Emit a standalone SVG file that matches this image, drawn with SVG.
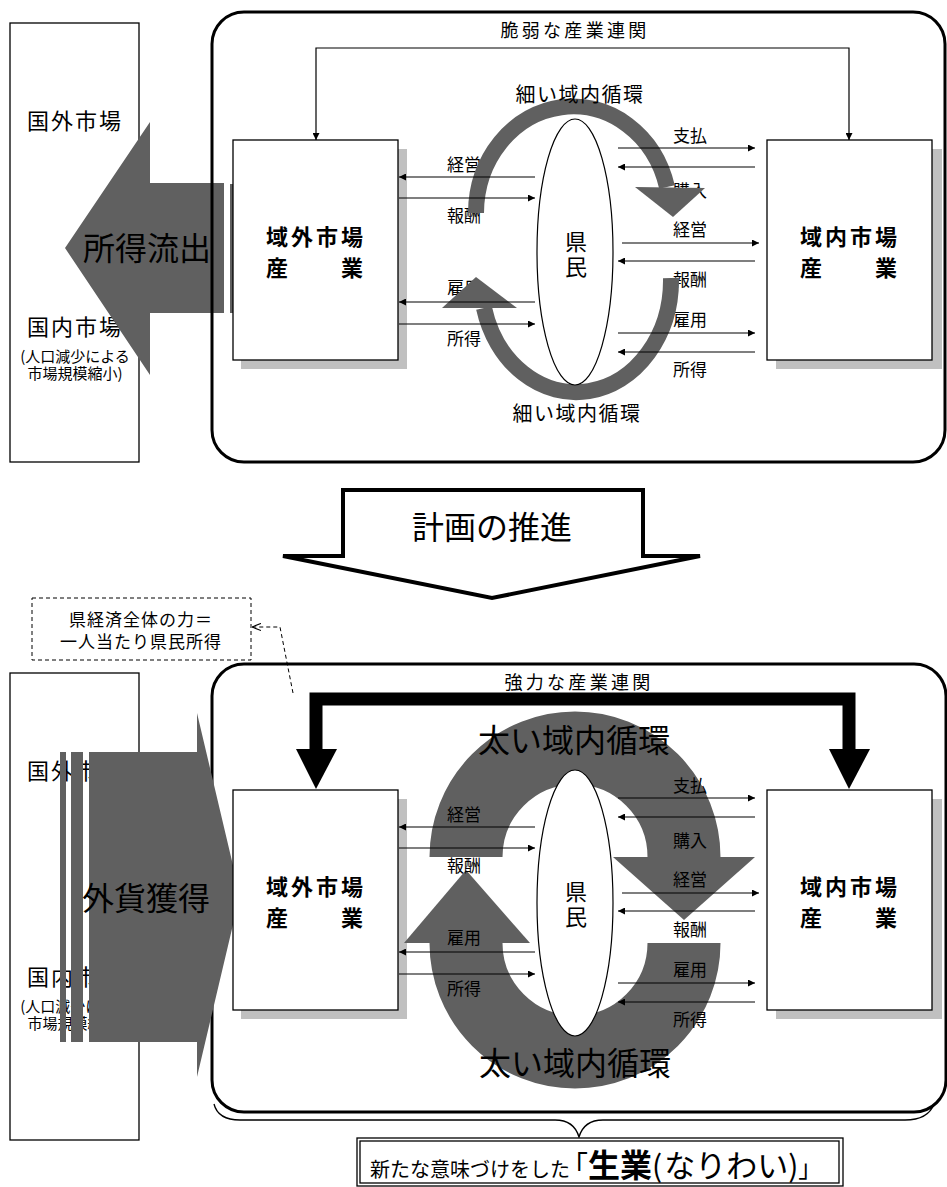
<svg xmlns="http://www.w3.org/2000/svg" width="947" height="1187" viewBox="0 0 947 1187">
<style>
text{font-family:"Noto Sans CJK JP","Noto Sans CJK SC",sans-serif;fill:#000}
.box{fill:#fff;stroke:#000;stroke-width:1.3}
.shadow{fill:#c0c0c0}
.panel{fill:none;stroke:#000;stroke-width:3}
.lbl{font-size:17px;text-anchor:middle}
.nl{font-size:22px;font-weight:bold;letter-spacing:3px}
.mk{font-size:22px;text-anchor:middle;letter-spacing:2px}
.sub{font-size:15px;text-anchor:middle}
.big{font-size:32px}
.ttl{font-size:18px;text-anchor:middle;letter-spacing:3.3px}
.circ{font-size:20px;text-anchor:middle;letter-spacing:1.5px}
.circb{font-size:32px;text-anchor:middle}
.gray{fill:#606060}
.arc{fill:none;stroke:#606060}
.ln{stroke:#000;stroke-width:1.2;fill:none;marker-end:url(#ah)}
.ell{fill:#fff;stroke:#000;stroke-width:1.2}
.ken{font-size:22px;text-anchor:middle}
</style>
<defs>
<marker id="ah" viewBox="0 0 10 10" refX="10" refY="5" markerWidth="9" markerHeight="7" markerUnits="userSpaceOnUse" orient="auto"><path d="M0,0 L10,5 L0,10 z"/></marker>
<marker id="oa" viewBox="0 0 10 10" refX="10" refY="5" markerWidth="9" markerHeight="9" markerUnits="userSpaceOnUse" orient="auto"><path d="M0,1 L10,5 L0,9" fill="none" stroke="#000" stroke-width="1.2"/></marker>
</defs>

<!-- ===== TOP PANEL ===== -->
<g id="market-top">
<rect class="box" x="10" y="23" width="129" height="439"/>
<text class="mk" x="75" y="129">国外市場</text>
<text class="mk" x="75" y="335">国内市場</text>
<text class="sub" x="75" y="362">(人口減少による</text>
<text class="sub" x="75" y="379">市場規模縮小)</text>
</g>
<g id="outflow">
<polygon class="gray" points="65,248 150,122 150,183 224,183 224,313 150,313 150,375"/>
<rect class="gray" x="230" y="184" width="5" height="129"/>
<text class="big" x="83" y="260">所得流出</text>
</g>
<g id="panel-top">
<rect class="panel" x="212" y="12" width="733" height="450" rx="32" ry="32"/>
</g>
<g id="ext-top">
<rect class="shadow" x="241" y="149" width="166" height="220"/>
<rect class="box" x="233" y="140" width="165" height="220"/>
<text class="nl" x="266" y="245">域外市場</text>
<text class="nl" x="266" y="276">産　　業</text>
</g>
<g id="int-top">
<rect class="shadow" x="776" y="149" width="166" height="220"/>
<rect class="box" x="767" y="140" width="165" height="220"/>
<text class="nl" x="800" y="245">域内市場</text>
<text class="nl" x="800" y="276">産　　業</text>
</g>
<g id="labels-top">
<text class="lbl" x="464" y="171">経営</text>
<text class="lbl" x="464" y="222">報酬</text>
<text class="lbl" x="464" y="294">雇用</text>
<text class="lbl" x="464" y="345">所得</text>
<text class="lbl" x="690" y="142">支払</text>
<text class="lbl" x="690" y="197">購入</text>
<text class="lbl" x="690" y="236">経営</text>
<text class="lbl" x="690" y="286">報酬</text>
<text class="lbl" x="690" y="326">雇用</text>
<text class="lbl" x="690" y="376">所得</text>
</g>
<g id="thin-circulation">
<path class="arc" stroke-width="16" d="M476 213 A97 107 0 0 1 667 187"/>
<polygon class="gray" points="635,187 705,188 673,217"/>
<path class="arc" stroke-width="16" d="M671 278 A95 112 0 0 1 484 308"/>
<polygon class="gray" points="442,308 517,308 476,277"/>
<text class="circ" x="580" y="102">細い域内循環</text>
<text class="circ" x="577" y="421">細い域内循環</text>
</g>
<g id="kenmin-top">
<ellipse class="ell" cx="575" cy="252" rx="38" ry="133"/>
<text class="ken" x="576" y="250">県<tspan x="576" dy="25">民</tspan></text>
</g>
<g id="connectors-top">
<text class="ttl" x="575" y="37">脆弱な産業連関</text>
<path class="ln" d="M583 48 H316 V140"/>
<path class="ln" d="M583 48 H849 V140"/>
<path class="ln" d="M535 177 H399"/>
<path class="ln" d="M399 198 H535"/>
<path class="ln" d="M535 302 H399"/>
<path class="ln" d="M399 324 H535"/>
<path class="ln" d="M618 148 H755"/>
<path class="ln" d="M755 167 H618"/>
<path class="ln" d="M622 243 H759"/>
<path class="ln" d="M755 261 H618"/>
<path class="ln" d="M618 333 H755"/>
<path class="ln" d="M755 352 H618"/>
</g>

<!-- ===== MIDDLE ARROW ===== -->
<g id="promotion">
<polygon points="343,490 643,490 643,556 700,556 492,598 283,556 343,556" fill="#fff" stroke="#000" stroke-width="4" stroke-linejoin="miter"/>
<text class="big" x="492" y="539" text-anchor="middle">計画の推進</text>
</g>

<!-- ===== BOTTOM PANEL ===== -->
<g id="power-note">
<rect x="32" y="598" width="219" height="62" fill="#fff" stroke="#000" stroke-width="1" stroke-dasharray="4,3"/>
<text x="141" y="626" font-size="17" text-anchor="middle" letter-spacing="1">県経済全体の力＝</text>
<text x="141" y="648" font-size="17" text-anchor="middle" letter-spacing="1">一人当たり県民所得</text>
</g>
<g id="market-bottom">
<rect class="box" x="10" y="673" width="129" height="467"/>
<text class="mk" x="75" y="779">国外市場</text>
<text class="mk" x="75" y="985">国内市場</text>
<text class="sub" x="75" y="1012">(人口減少による</text>
<text class="sub" x="75" y="1029">市場規模縮小)</text>
</g>
<g id="panel-bottom">
<rect class="panel" x="212" y="664" width="734" height="448" rx="32" ry="32"/>
</g>
<g id="inflow">
<rect class="gray" x="60" y="752" width="6" height="290"/>
<rect class="gray" x="71" y="752" width="12" height="290"/>
<polygon class="gray" points="89,752 197,752 197,713 240,895 197,1077 197,1042 89,1042"/>
<text class="big" x="82" y="910">外貨獲得</text>
</g>
<g id="ext-bottom">
<rect class="shadow" x="241" y="799" width="166" height="220"/>
<rect class="box" x="233" y="790" width="165" height="220"/>
<text class="nl" x="266" y="895">域外市場</text>
<text class="nl" x="266" y="926">産　　業</text>
</g>
<g id="int-bottom">
<rect class="shadow" x="776" y="799" width="166" height="220"/>
<rect class="box" x="767" y="790" width="165" height="220"/>
<text class="nl" x="800" y="895">域内市場</text>
<text class="nl" x="800" y="926">産　　業</text>
</g>
<g id="thick-circulation">
<path class="arc" stroke-width="73" d="M466 857 A109 109 0 0 1 684 857"/>
<polygon class="gray" points="613,857 755,857 684,920"/>
<path class="arc" stroke-width="73" d="M684 943 A109 109 0 0 1 466 943"/>
<polygon class="gray" points="404,943 530,943 466,870"/>
<text class="circb" x="574" y="752">太い域内循環</text>
<text class="circb" x="575" y="1075">太い域内循環</text>
</g>
<g id="kenmin-bottom">
<ellipse class="ell" cx="575" cy="903" rx="38" ry="133"/>
<text class="ken" x="576" y="900">県<tspan x="576" dy="25">民</tspan></text>
</g>
<g id="labels-bottom">
<text class="lbl" x="464" y="821">経営</text>
<text class="lbl" x="464" y="872">報酬</text>
<text class="lbl" x="464" y="944">雇用</text>
<text class="lbl" x="464" y="995">所得</text>
<text class="lbl" x="690" y="792">支払</text>
<text class="lbl" x="690" y="847">購入</text>
<text class="lbl" x="690" y="886">経営</text>
<text class="lbl" x="690" y="936">報酬</text>
<text class="lbl" x="690" y="976">雇用</text>
<text class="lbl" x="690" y="1026">所得</text>
</g>
<g id="connectors-bottom">
<path d="M293 693 L280 627 H252" fill="none" stroke="#000" stroke-width="1" stroke-dasharray="4,3" marker-end="url(#oa)"/>
<text class="ttl" x="579" y="689">強力な産業連関</text>
<path d="M316 750 V699 H849 V750" fill="none" stroke="#000" stroke-width="13" stroke-linejoin="miter"/>
<polygon points="296,749 337,749 316,789"/>
<polygon points="829,749 870,749 849,789"/>
<path class="ln" d="M535 827 H399"/>
<path class="ln" d="M399 848 H535"/>
<path class="ln" d="M535 952 H399"/>
<path class="ln" d="M399 974 H535"/>
<path class="ln" d="M618 798 H755"/>
<path class="ln" d="M755 817 H618"/>
<path class="ln" d="M622 893 H759"/>
<path class="ln" d="M755 911 H618"/>
<path class="ln" d="M618 983 H755"/>
<path class="ln" d="M755 1002 H618"/>
</g>

<!-- ===== CONCLUSION ===== -->
<g id="brace">
<path d="M214 1104 Q218 1120 240 1120 L555 1120 Q574 1120 579 1137 Q584 1120 603 1120 L905 1120 Q928 1120 934 1104" fill="none" stroke="#000" stroke-width="1.3"/>
</g>
<g id="nariwai">
<rect x="357" y="1138" width="486" height="48" fill="#fff" stroke="#000" stroke-width="1.3"/>
<rect x="360" y="1141" width="479" height="42" fill="none" stroke="#000" stroke-width="1.3"/>
<text x="370" y="1177" font-size="20">新たな意味づけをした<tspan font-size="28" dx="-10">「</tspan><tspan font-size="32" font-weight="bold">生業</tspan><tspan font-size="30">(</tspan><tspan font-size="31" dx="2">なりわい</tspan><tspan font-size="30">)</tspan><tspan font-size="24">」</tspan></text>
</g>
</svg>
